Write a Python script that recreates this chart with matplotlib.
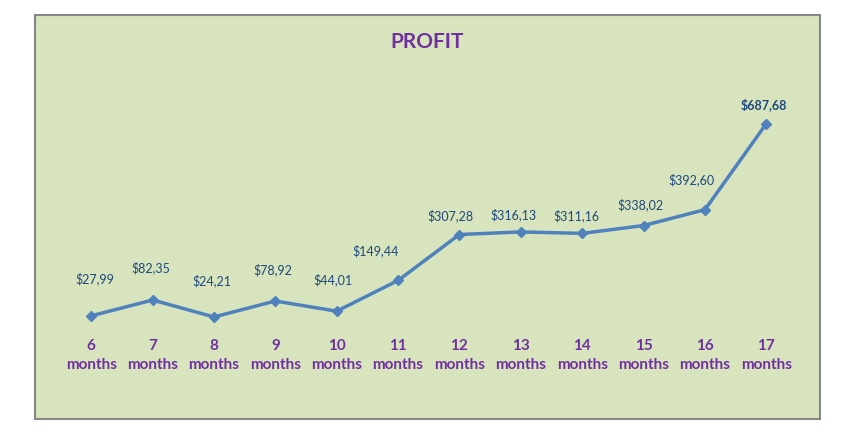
import matplotlib
matplotlib.use("Agg")
import matplotlib.pyplot as plt
from matplotlib.patches import Rectangle

categories = ["6\nmonths", "7\nmonths", "8\nmonths", "9\nmonths", "10\nmonths", "11\nmonths",
              "12\nmonths", "13\nmonths", "14\nmonths", "15\nmonths", "16\nmonths", "17\nmonths"]
profit = [27.99, 82.35, 24.21, 78.92, 44.01, 149.44, 307.28, 316.13, 311.16, 338.02, 392.60, 687.68]

# label offsets in pixels (dx, dy) relative to each point
label_offsets = [(4, 37), (-2, 32), (-2, 36), (-2, 31), (-4, 31), (-22, 30),
                 (-9, 19), (-7, 17), (-6, 18), (-3, 21), (-13, 30), (-2, 19)]

W, H = 854, 446
fig = plt.figure(figsize=(W / 100, H / 100), dpi=100)
fig.patch.set_facecolor("white")

# chart area background with border (drawn in a background axes)
bg = fig.add_axes([0, 0, 1, 1], zorder=-5)
bg.set_xlim(0, W)
bg.set_ylim(H, 0)
bg.axis("off")
bg.add_patch(Rectangle((35, 15), 820 - 35, 419 - 15, facecolor="#D7E4BD",
                       edgecolor="#868686", linewidth=1.5))

left, right = 60.5, 797
top, bottom = 91, 324
ax = fig.add_axes([left / W, 1 - bottom / H, (right - left) / W, (bottom - top) / H], zorder=1)
ax.set_facecolor("none")

font = "Lato"
x = list(range(len(categories)))
ax.plot(x, profit, color="#4F81BD", linewidth=2.5, marker="D", markersize=5.5,
        markerfacecolor="#4F81BD", markeredgecolor="#4F81BD", zorder=3, clip_on=False)

for i, (v, off) in enumerate(zip(profit, label_offsets)):
    ax.annotate(f"${v:,.2f}".replace(".", "#").replace(",", ".").replace("#", ","),
                (i, v), xytext=off, textcoords="offset pixels",
                ha="center", va="center", fontsize=9, color="#1F497D",
                fontweight="bold" if i == len(profit) - 1 else "normal",
                family=font, annotation_clip=False)

ax.set_xlim(-0.5, len(categories) - 0.5)
ax.set_ylim(0, 800)
ax.set_xticks(x)
ax.set_xticklabels(categories, fontsize=11, fontweight="bold", color="#7030A0",
                   family=font, linespacing=1.45)
ax.tick_params(axis="x", length=0, pad=10.5)
ax.set_yticks([])
for s in ax.spines.values():
    s.set_visible(False)

fig.text(427 / W, 1 - 42 / H, "PROFIT", ha="center", va="center", fontsize=15,
         fontweight="bold", color="#7030A0", family=font)

fig.savefig("out.png", dpi=100)
